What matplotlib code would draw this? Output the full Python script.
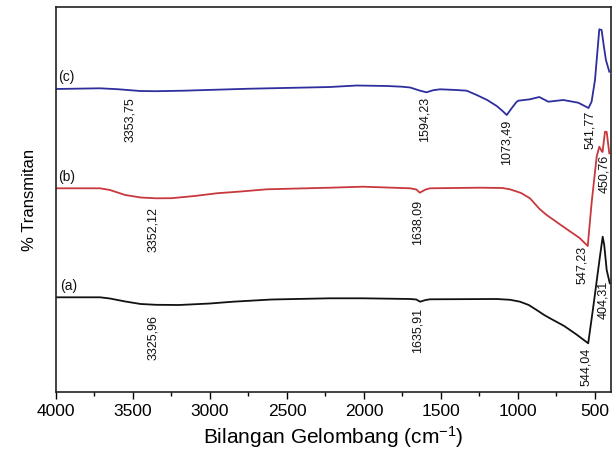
import matplotlib
matplotlib.use("Agg")
import matplotlib.pyplot as plt
import numpy as np

# ---------------- data ----------------
wn_c = [4000, 3714, 3600, 3455, 3354, 3173, 2740, 2307, 2221, 2047, 1850, 1755, 1700,
        1640, 1594, 1550, 1506, 1400, 1333, 1268, 1200, 1138, 1100, 1073, 1040, 1010,
        998, 922, 862, 803, 706, 609, 542, 522, 500, 472, 457, 442, 429, 407]
t_c = [303, 303.7, 302.8, 301, 300.8, 301.3, 303.3, 304.7, 305, 306.5, 306, 305.3, 304.5,
       301.5, 299.7, 301.8, 302.7, 302, 301.3, 297, 292, 286, 281, 277, 284, 290,
       291.3, 292.7, 295, 290.3, 292, 289.3, 284, 290.3, 312, 362.7, 362, 345.3, 332, 320.3]

wn_b = [4000, 3714, 3650, 3550, 3450, 3350, 3250, 3100, 2957, 2800, 2632, 2221, 2005,
        1701, 1660, 1638, 1600, 1571, 1247, 1100, 1052, 980, 922, 860, 814, 706, 600,
        547, 522, 489, 472, 457, 451, 435, 424, 407]
t_b = [203.7, 203.7, 202, 197, 194.5, 193.7, 193.8, 196, 198.7, 200.5, 202.7, 204.3, 205.3,
       203.7, 202.5, 199.3, 202.5, 203.7, 204.3, 204, 202.7, 199, 193.7, 183, 177, 165.3, 154,
       146, 189, 235.3, 245.3, 241, 240, 260.3, 260, 238.7]

wn_a = [4000, 3714, 3650, 3550, 3450, 3350, 3200, 3000, 2850, 2600, 2221, 2005, 1701,
        1660, 1636, 1600, 1571, 1138, 1050, 987, 930, 879, 830, 792, 700, 620,
        544, 511, 468, 450, 440, 424, 404]
t_a = [94.7, 94.7, 93.5, 90.5, 88, 87.2, 87, 88.5, 90.3, 92.5, 93.7, 93.7, 93,
       92.5, 90.3, 92, 92.7, 93, 92.2, 90.3, 87, 82, 77, 73.7, 66, 57.5,
       48.7, 85.3, 135.3, 155.3, 147, 122, 108.7]

series_names = ["(c)", "(b)", "(a)"]
series_colors = ["#2e2e9e", "#c8383c", "#111111"]

peak_labels = ["3353,75", "1594,23", "1073,49", "541,77", "450,76",
               "3352,12", "1638,09", "547,23", "404,31",
               "3325,96", "1635,91", "544,04"]
xticks = [4000, 3500, 3000, 2500, 2000, 1500, 1000, 500]

# ---------------- figure ----------------
plt.rcParams['font.family'] = ['Liberation Sans', 'DejaVu Sans']
plt.rcParams['mathtext.fontset'] = 'custom'
plt.rcParams['mathtext.rm'] = 'Liberation Sans'
plt.rcParams['mathtext.it'] = 'Liberation Sans'
fig = plt.figure(figsize=(6.13, 4.53), dpi=100)
ax = fig.add_axes([56/613, 61/453, 555/613, 385/453])

curves = [(wn_c, t_c), (wn_b, t_b), (wn_a, t_a)]
for (wx, ty), col in zip(curves, series_colors):
    ax.plot(wx, ty, color=col, lw=1.3, solid_joinstyle='round')

ax.set_xlim(4000, 396)
ax.set_ylim(0, 385)

# series tags
tag_pos = [(3985, 315), (3985, 215), (3975, 106)]
for name, (x, y) in zip(series_names, tag_pos):
    ax.text(x, y, name, fontsize=10, ha='left', va='center', color='#111111')

# peak labels (rotated)
label_pos = [(3519, 272), (1604, 272.5), (1071, 250), (532, 262), (440, 218),
             (3370, 162), (1649, 170), (585, 127), (448, 92),
             (3370, 55), (1649, 62), (560, 25)]
for txt, (x, y) in zip(peak_labels, label_pos):
    ax.text(x, y, txt, rotation=90, fontsize=9, ha='center', va='center', color='#111111')

ax.set_xticks(xticks)
ax.set_xticklabels([str(v) for v in xticks])
ax.set_xticks(np.arange(3750, 400, -500), minor=True)
ax.set_yticks([])
ax.tick_params(axis='x', which='major', length=5, width=1, direction='out', labelsize=12.5, pad=4)
ax.tick_params(axis='x', which='minor', length=3, width=1, direction='out')
for s in ax.spines.values():
    s.set_linewidth(1.2)
    s.set_color('#222222')

ax.set_xlabel("Bilangan Gelombang (cm$^{\\mathregular{-1}}$)", fontsize=15, labelpad=3)
ax.set_ylabel("% Transmitan", fontsize=12, labelpad=14)

fig.savefig("out.png", dpi=100)
